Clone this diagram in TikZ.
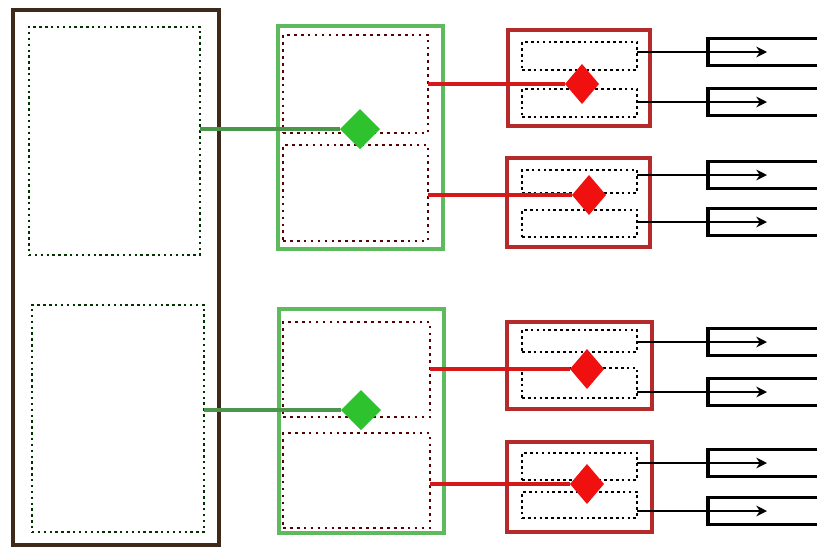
\documentclass[tikz,border=0pt]{standalone}
\usepackage{xcolor}
\usepackage{tikz}
\usetikzlibrary{arrows.meta,shapes.geometric}

\definecolor{framebrown}{HTML}{3E2A1A}
\definecolor{grpgreen}{HTML}{5DBB5D}
\definecolor{gategreen}{HTML}{2EC22E}
\definecolor{unitred}{HTML}{B52A2A}
\definecolor{gatered}{HTML}{F01010}
\definecolor{wirered}{HTML}{D81818}

\begin{document}
\begin{tikzpicture}[x=0.75pt,y=-0.75pt,>={Stealth[length=8pt,width=8pt]},
  every node/.style={inner sep=0pt,outer sep=0pt},
  dims/.style 2 args={minimum width=#1*0.75pt,minimum height=#2*0.75pt},
  frame/.style={rectangle,draw=framebrown,line width=3.2pt},
  slot/.style={rectangle,draw=green!20!black,line width=1.8pt,dash pattern=on 1.8pt off 2.6pt},
  grp/.style={rectangle,draw=grpgreen,line width=2.6pt},
  half/.style={rectangle,draw=red!35!black,line width=2pt,dash pattern=on 2pt off 3.2pt},
  unit/.style={rectangle,draw=unitred,line width=2.6pt},
  cell/.style={rectangle,draw=black,line width=2pt,dash pattern=on 2pt off 2.4pt,dims={115}{#1}},
  ggate/.style={diamond,fill=gategreen,dims={40}{40}},
  rgate/.style={diamond,fill=gatered,dims={34}{40}},
  outbox/.style={rectangle,draw=black,line width=2.4pt,dims={118}{27}},
  gwire/.style={grpgreen!80!black,line width=3pt},
  rwire/.style={wirered,line width=2.8pt},
  bwire/.style={black,line width=2pt,->}]
  \useasboundingbox[fill=white] (0,0) rectangle (817,547);
  % left rack
  \node[frame,dims={206}{535}] (rack) at (116,277.5) {};
  \node[slot,dims={171}{228}] (s1) at (114.5,141) {};
  \node[slot,dims={172}{227}] (s2) at (118,418.5) {};
  % green groups
  \node[grp,dims={165}{223}] (g1) at (360.5,137.5) {};
  \node[grp,dims={165}{224}] (g2) at (361.5,421) {};
  \node[half,dims={145}{98}] (h11) at (355.5,84) {};
  \node[half,dims={145}{96}] (h12) at (355.5,193) {};
  \node[half,dims={147}{95}] (h21) at (356.5,369.5) {};
  \node[half,dims={147}{95}] (h22) at (356.5,480.5) {};
  % red units
  \node[unit,dims={142}{96}] (u1) at (579,78) {};
  \node[unit,dims={143}{89}] (u2) at (578.5,202.5) {};
  \node[unit,dims={145}{87}] (u3) at (579.5,365.5) {};
  \node[unit,dims={145}{90}] (u4) at (579.5,487) {};
  \node[cell=28] (c11) at (579.5,56) {};
  \node[cell=28] (c12) at (579.5,103) {};
  \node[cell=23] (c21) at (579.5,181.5) {};
  \node[cell=27] (c22) at (579.5,223.5) {};
  \node[cell=22] (c31) at (579.5,341) {};
  \node[cell=30] (c32) at (579.5,383) {};
  \node[cell=27] (c41) at (579.5,466.5) {};
  \node[cell=26] (c42) at (579.5,505) {};
  % outputs
  \node[outbox] (o11) at (767,52) {};
  \node[outbox] (o12) at (767,102) {};
  \node[outbox] (o21) at (767,175) {};
  \node[outbox] (o22) at (767,222) {};
  \node[outbox] (o31) at (767,342) {};
  \node[outbox] (o32) at (767,392) {};
  \node[outbox] (o41) at (767,463) {};
  \node[outbox] (o42) at (767,511) {};
  % gates
  \node[ggate] (gd1) at (360,129) {};
  \node[ggate] (gd2) at (361,410) {};
  \node[rgate] (rd1) at (582,84) {};
  \node[rgate] (rd2) at (589,195) {};
  \node[rgate] (rd3) at (587,369) {};
  \node[rgate] (rd4) at (587,484) {};
  % wires
  \draw[gwire] (s1.east |- gd1.west) -- (gd1.west);
  \draw[gwire] (s2.east |- gd2.west) -- (gd2.west);
  \draw[rwire] (h11.east |- rd1.west) -- (rd1.west);
  \draw[rwire] (h12.east |- rd2.west) -- (rd2.west);
  \draw[rwire] (h21.east |- rd3.west) -- (rd3.west);
  \draw[rwire] (h22.east |- rd4.west) -- (rd4.west);
  \draw[bwire] (c11.east |- o11) -- (o11.center);
  \draw[bwire] (c12.east |- o12) -- (o12.center);
  \draw[bwire] (c21.east |- o21) -- (o21.center);
  \draw[bwire] (c22.east |- o22) -- (o22.center);
  \draw[bwire] (c31.east |- o31) -- (o31.center);
  \draw[bwire] (c32.east |- o32) -- (o32.center);
  \draw[bwire] (c41.east |- o41) -- (o41.center);
  \draw[bwire] (c42.east |- o42) -- (o42.center);
\end{tikzpicture}
\end{document}
